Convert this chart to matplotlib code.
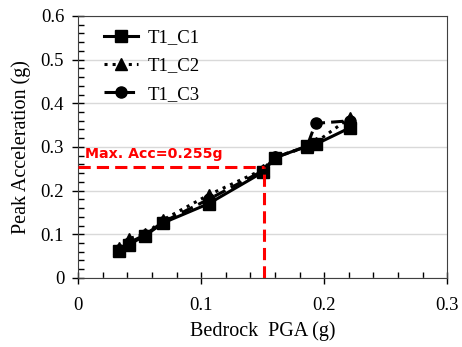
import matplotlib.pyplot as plt
import numpy as np

plt.rcParams['font.family'] = ['Liberation Serif', 'DejaVu Serif']

# data
pga = [0.033, 0.041, 0.0545, 0.069, 0.106, 0.150, 0.160, 0.186, 0.193, 0.221]
c1 = [0.062, 0.076, 0.097, 0.126, 0.170, 0.242, 0.275, 0.302, 0.306, 0.344]
c2 = [0.068, 0.090, 0.100, 0.133, 0.190, 0.248, 0.277, 0.300, 0.310, 0.367]
c3 = [0.065, 0.080, 0.099, 0.128, 0.180, 0.245, 0.276, 0.301, 0.354, 0.360]
labels = ['T1_C1', 'T1_C2', 'T1_C3']
max_pga = 0.151
max_acc = 0.255

fig = plt.figure(figsize=(4.62, 3.47), dpi=100)
ax = fig.add_axes([0.169, 0.199, 0.799, 0.755])

ax.plot(pga, c1, color='black', lw=2.2, ls='-', marker='s', ms=8, label=labels[0], zorder=3)
ax.plot(pga, c2, color='black', lw=2.2, ls=':', marker='^', ms=8, label=labels[1], zorder=3)
ax.plot(pga, c3, color='black', lw=2.2, ls=(0, (4, 2)), marker='o', ms=8, label=labels[2], zorder=3)

ax.plot([0, max_pga], [max_acc, max_acc], color='red', lw=2.2, ls=(0, (4, 2)), zorder=4)
ax.plot([max_pga, max_pga], [0, max_acc], color='red', lw=2.2, ls=(0, (4, 2)), zorder=4)
ax.text(0.006, 0.283, 'Max. Acc=0.255g', color='red', fontsize=10.2, fontweight='bold',
        family='DejaVu Sans', va='center', ha='left')

ax.set_xlim(0, 0.3)
ax.set_ylim(0, 0.6)
ax.set_xticks([0, 0.1, 0.2, 0.3])
ax.set_xticklabels(['0', '0.1', '0.2', '0.3'])
ax.set_yticks(np.arange(0, 0.61, 0.1))
ax.set_yticklabels(['0', '0.1', '0.2', '0.3', '0.4', '0.5', '0.6'])
ax.set_xticks(np.arange(0, 0.301, 0.02), minor=True)
ax.set_yticks(np.arange(0, 0.601, 0.02), minor=True)
ax.tick_params(which='major', direction='inout', length=8, width=1, labelsize=13.5)
ax.tick_params(axis='x', which='major', pad=10)
ax.tick_params(axis='y', which='major', pad=6)
ax.tick_params(which='minor', direction='in', length=4, width=1)
ax.grid(True, axis='y', which='major', color='#d9d9d9', lw=1)
ax.set_axisbelow(True)
for s in ax.spines.values():
    s.set_color('#404040')

ax.set_xlabel('Bedrock  PGA (g)', fontsize=14.5, labelpad=5)
ax.set_ylabel('Peak Acceleration (g)', fontsize=14.5, labelpad=7)

ax.legend(loc='upper left', frameon=False, fontsize=13.5, handlelength=1.8,
          handletextpad=0.5, borderaxespad=0.3, labelspacing=0.6,
          bbox_to_anchor=(0.035, 1.0))

fig.savefig('out.png', dpi=100)
